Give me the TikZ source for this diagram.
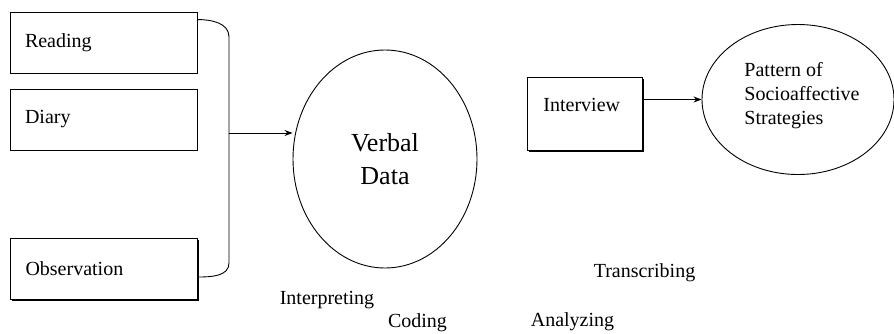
\documentclass[tikz,border=0pt]{standalone}
\usepackage{fontspec}
\setmainfont{Liberation Serif}
\usetikzlibrary{arrows.meta,shapes.geometric,shadows}
\begin{document}
\begin{tikzpicture}[x=1pt,y=-1pt]
			\tikzstyle{every node}+=[font=\fontsize{20}{24}\selectfont]
			\tikzstyle{srcbox}=[draw, line width=0.9pt, fill=white, rectangle, align=left, inner xsep=15pt, inner ysep=0pt, text width=157pt, minimum height=61pt, drop shadow={opacity=1, fill=black, shadow xshift=1.3pt, shadow yshift=-1.3pt}]
			\tikzstyle{blob}=[draw, line width=0.9pt, ellipse, inner sep=0pt]
			\tikzstyle{link}=[line width=0.9pt, -{Stealth[length=8pt,width=6pt]}]
			\useasboundingbox (0,0) rectangle (894,333);
			\node[srcbox] (reading) at (103.5,42.5) {Reading};
			\node[srcbox] (diary) at (103.5,119.5) {Diary};
			\node[srcbox] (observ) at (104,269) {Observation};
			\node[blob, minimum width=184pt, minimum height=218pt, font=\fontsize{26}{33}\selectfont, align=center] (verbal) at (385,159) {Verbal\\Data};
			\node[draw, line width=0.9pt, fill=white, anchor=north west, align=left, text width=83pt, inner xsep=16pt, inner ysep=20pt, text height=14pt, text depth=19pt, drop shadow={opacity=1, fill=black, shadow xshift=1.3pt, shadow yshift=-1.3pt}] (interview) at (527,77) {Interview};
			\node[blob, minimum width=192pt, minimum height=150pt] (pattern) at (798,99.5) {};
			\node[align=left, inner sep=0pt] (pattxt) at (802,96) {Pattern of\\Socioaffective\\Strategies};
			% brace from the three sources
			\coordinate (btop) at (229,37);
			\coordinate (bbot) at (229,263);
			\coordinate (bmid) at (229,133);
			\draw[line width=0.9pt] ([yshift=-8pt]reading.north east) to[out=0,in=90] (btop) -- (bbot) to[out=-90,in=0] ([yshift=-8pt]observ.east);
			\draw[link] (bmid) -- (bmid -| verbal.west);
			\draw[link] (interview.east |- pattern.west) -- (pattern.west);
			% steps
			\node (transcr) at (644.5,273) {Transcribing};
			\node (interp) at (327,300) {Interpreting};
			\node (coding) at (417.5,323) {Coding};
			\node (analyz) at (572.5,322) {Analyzing};
		\end{tikzpicture}
\end{document}
